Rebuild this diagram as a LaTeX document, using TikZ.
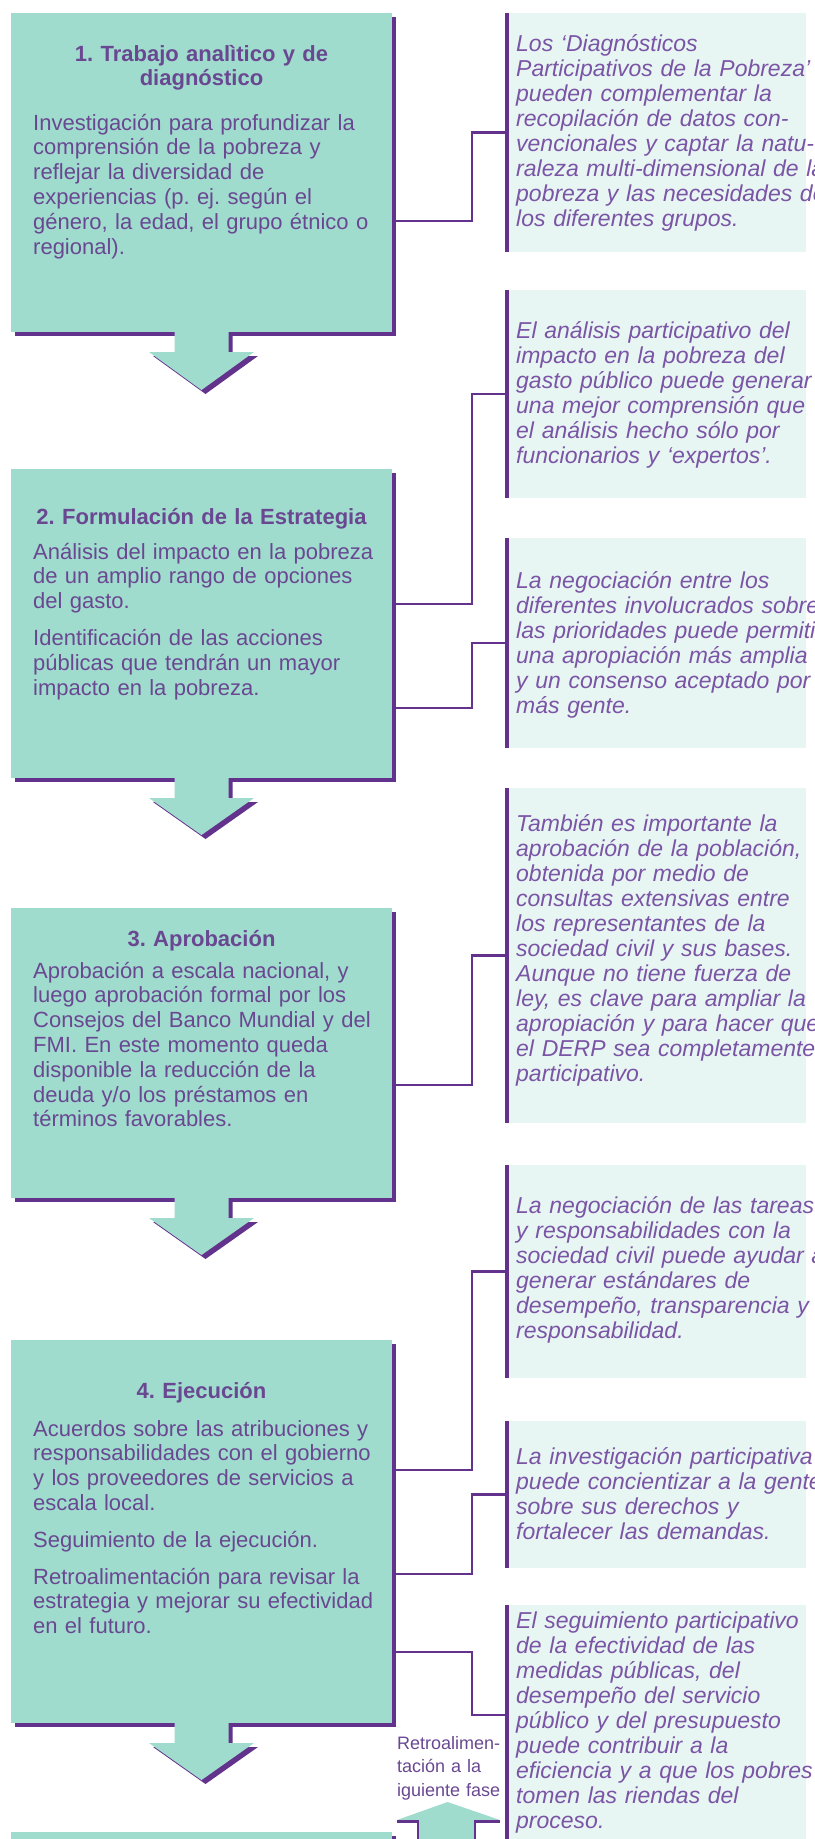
\documentclass[tikz,border=0pt]{standalone}
\usepackage{fontspec}
\setmainfont{Liberation Sans}
\usetikzlibrary{shadows}
\definecolor{menta}{RGB}{160,220,206}
\definecolor{morado}{RGB}{98,50,140}
\definecolor{textobox}{RGB}{105,72,145}
\definecolor{textonota}{RGB}{122,84,165}
\definecolor{fondonota}{RGB}{232,246,243}
\begin{document}
\frenchspacing
\begin{tikzpicture}[x=1pt, y=-1pt,
    etapa/.style={fill=menta, minimum width=381pt, inner sep=0pt, outer sep=0pt,
      drop shadow={shadow xshift=4pt, shadow yshift=-4pt, fill=morado, opacity=1}},
    flecha/.style={fill=menta,
      drop shadow={shadow xshift=4pt, shadow yshift=-4pt, fill=morado, opacity=1}},
    nota/.style={fill=fondonota, minimum width=299pt, inner sep=0pt, outer sep=0pt},
    raya/.style={morado, line width=4pt},
    enlace/.style={morado, line width=2.6pt},
    titulo/.style={anchor=base, text width=370pt, align=center, inner sep=0pt,
      text=textobox, font=\fontsize{22}{24.8}\selectfont\bfseries},
    cuerpo/.style={anchor=base west, text width=365pt, align=left, inner sep=0pt,
      text=textobox, font=\fontsize{22}{24.8}\selectfont},
    texto/.style={anchor=base west, text width=340pt, align=left, inner sep=0pt,
      text=textonota, font=\fontsize{23}{25}\selectfont\itshape}]
  \useasboundingbox (0,0) rectangle (814,1839);
  \clip (0,0) rectangle (814,1839);
  % notas de la derecha
  \node[nota, minimum height=239pt] (p1) at (656.5,132.5) {};
  \node[nota, minimum height=208pt] (p2) at (656.5,394) {};
  \node[nota, minimum height=210pt] (p3) at (656.5,643) {};
  \node[nota, minimum height=335pt] (p4) at (656.5,955.5) {};
  \node[nota, minimum height=213pt] (p5) at (656.5,1271.5) {};
  \node[nota, minimum height=147pt] (p6) at (656.5,1494.5) {};
  \node[nota, minimum height=295pt] (p7) at (656.5,1752.5) {};
  \draw[raya] (p1.north west) -- (p1.south west);
  \draw[raya] (p2.north west) -- (p2.south west);
  \draw[raya] (p3.north west) -- (p3.south west);
  \draw[raya] (p4.north west) -- (p4.south west);
  \draw[raya] (p5.north west) -- (p5.south west);
  \draw[raya] (p6.north west) -- (p6.south west);
  \draw[raya] (p7.north west) -- (p7.south west);
  \node[texto] (n1) at (516,51) {Los ‘Diagnósticos\\Participativos de la Pobreza’\\pueden complementar la\\recopilación de datos con-\\vencionales y captar la natu-\\raleza multi-dimensional de la\\pobreza y las necesidades de\\los diferentes grupos.};
  \node[texto] (n2) at (516,338) {El análisis participativo del\\impacto en la pobreza del\\gasto público puede generar\\una mejor comprensión que\\el análisis hecho sólo por\\funcionarios y ‘expertos’.};
  \node[texto] (n3) at (516,588) {La negociación entre los\\diferentes involucrados sobre\\las prioridades puede permitir\\una apropiación más amplia\\y un consenso aceptado por\\más gente.};
  \node[texto] (n4) at (516,831) {También es importante la\\aprobación de la población,\\obtenida por medio de\\consultas extensivas entre\\los representantes de la\\sociedad civil y sus bases.\\Aunque no tiene fuerza de\\ley, es clave para ampliar la\\apropiación y para hacer que\\el DERP sea completamente\\participativo.};
  \node[texto] (n5) at (516,1213) {La negociación de las tareas\\y responsabilidades con la\\sociedad civil puede ayudar a\\generar estándares de\\desempeño, transparencia y\\responsabilidad.};
  \node[texto] (n6) at (516,1464) {La investigación participativa\\puede concientizar a la gente\\sobre sus derechos y\\fortalecer las demandas.};
  \node[texto] (n7) at (516,1628) {El seguimiento participativo\\de la efectividad de las\\medidas públicas, del\\desempeño del servicio\\público y del presupuesto\\puede contribuir a la\\eficiencia y a que los pobres\\tomen las riendas del\\proceso.};
  % etapa 1
  \node[etapa, minimum height=319pt] (s1) at (201.5,172.5) {};
  \fill[flecha] ([shift={(-27,-2)}]s1.south) -- ++(0,22) -- ++(-25.5,0) -- ++(52.5,38)
    -- ++(52.5,-38) -- ++(-25.5,0) -- ++(0,-22) -- cycle;
  \node[titulo] (t1) at (201.5,61) {1. Trabajo analìtico y de\\diagnóstico};
  \node[cuerpo] (b1) at (33,130) {Investigación para profundizar la\\comprensión de la pobreza y\\reflejar la diversidad de\\experiencias (p. ej. según el\\género, la edad, el grupo étnico o\\regional).};
  % etapa 2
  \node[etapa, minimum height=309pt] (s2) at (201.5,623.5) {};
  \fill[flecha] ([shift={(-27,-2)}]s2.south) -- ++(0,22) -- ++(-25.5,0) -- ++(52.5,37)
    -- ++(52.5,-37) -- ++(-25.5,0) -- ++(0,-22) -- cycle;
  \node[titulo] (t2) at (201.5,524) {2. Formulación de la Estrategia};
  \node[cuerpo] (b2) at (33,559) {Análisis del impacto en la pobreza\\de un amplio rango de opciones\\del gasto.\\[12pt]Identificación de las acciones\\públicas que tendrán un mayor\\impacto en la pobreza.};
  % etapa 3
  \node[etapa, minimum height=290pt] (s3) at (201.5,1053) {};
  \fill[flecha] ([shift={(-27,-2)}]s3.south) -- ++(0,22) -- ++(-25.5,0) -- ++(52.5,37)
    -- ++(52.5,-37) -- ++(-25.5,0) -- ++(0,-22) -- cycle;
  \node[titulo] (t3) at (201.5,946) {3. Aprobación};
  \node[cuerpo] (b3) at (33,978) {Aprobación a escala nacional, y\\luego aprobación formal por los\\Consejos del Banco Mundial y del\\FMI. En este momento queda\\disponible la reducción de la\\deuda y/o los préstamos en\\términos favorables.};
  % etapa 4
  \node[etapa, minimum height=383pt] (s4) at (201.5,1531.5) {};
  \fill[flecha] ([shift={(-27,-2)}]s4.south) -- ++(0,22) -- ++(-25.5,0) -- ++(52.5,37)
    -- ++(52.5,-37) -- ++(-25.5,0) -- ++(0,-22) -- cycle;
  \node[titulo] (t4) at (201.5,1398) {4. Ejecución};
  \node[cuerpo] (b4) at (33,1436) {Acuerdos sobre las atribuciones y\\responsabilidades con el gobierno\\y los proveedores de servicios a\\escala local.\\[12pt]Seguimiento de la ejecución.\\[12pt]Retroalimentación para revisar la\\estrategia y mejorar su efectividad\\en el futuro.};
  % etapa 5, cortada abajo
  \node[etapa, minimum height=80pt] (s5) at (201.5,1872) {};
  % enlaces con las notas
  \coordinate (a1) at (396,221);
  \coordinate (a2) at (396,604);
  \coordinate (a3) at (396,708);
  \coordinate (a4) at (396,1085);
  \coordinate (a5) at (396,1470);
  \coordinate (a6) at (396,1574);
  \coordinate (a7) at (396,1652);
  \coordinate (e7) at (507,1715);
  \draw[enlace] (a1) -- ++(76,0) |- (p1.west);
  \draw[enlace] (a2) -- ++(76,0) |- (p2.west);
  \draw[enlace] (a3) -- ++(76,0) |- (p3.west);
  \draw[enlace] (a4) -- ++(76,0) |- (p4.west);
  \draw[enlace] (a5) -- ++(76,0) |- (p5.west);
  \draw[enlace] (a6) -- ++(76,0) |- (p6.west);
  \draw[enlace] (a7) -- ++(76,0) |- (e7);
  % retroalimentacion
  \node[anchor=base west, text width=110pt, align=left, inner sep=0pt, text=textobox,
    font=\fontsize{18}{23.5}\selectfont] (fb) at (397,1749) {Retroalimen-\\tación a la\\iguiente fase};
  \fill[menta] (418,1845) -- (418,1820) -- (397,1820) -- (447.5,1802) -- (500,1820)
    -- (475,1820) -- (475,1845) -- cycle;
  \draw[enlace] (397,1821.5) -- (418,1821.5) -- (418,1845);
  \draw[enlace] (500,1821.5) -- (475,1821.5) -- (475,1845);
\end{tikzpicture}
\end{document}
